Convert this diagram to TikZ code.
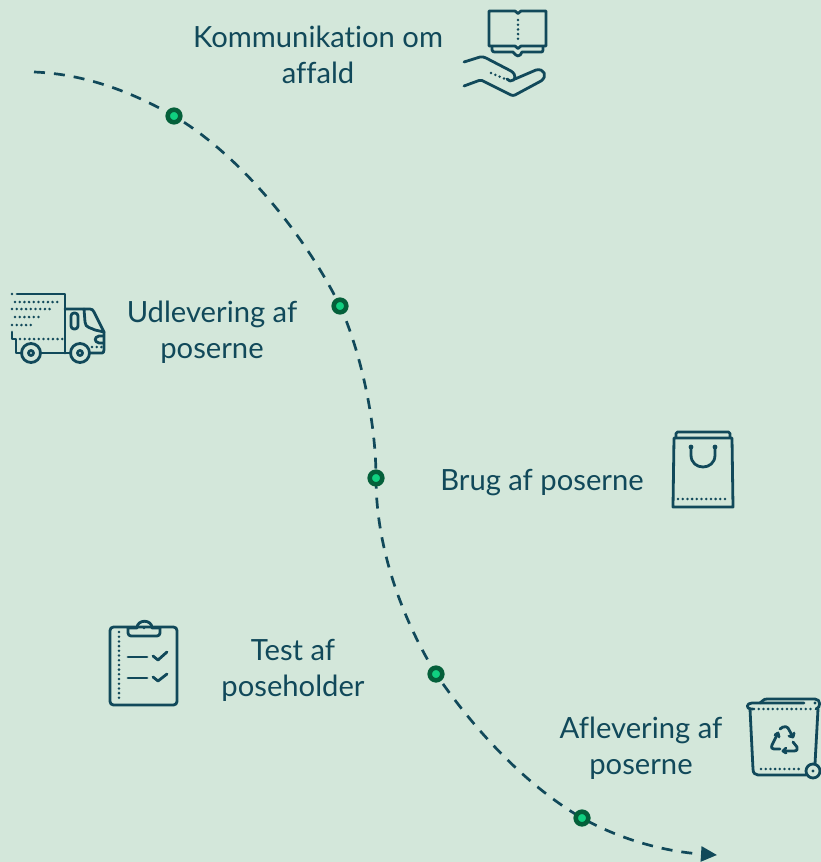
\documentclass[tikz,border=0pt]{standalone}
\usepackage{fontspec}
\setmainfont{Lato}[Ligatures=NoCommon]
\usetikzlibrary{arrows.meta}
\definecolor{bgc}{HTML}{D3E7DA}
\definecolor{ink}{HTML}{11495A}
\definecolor{dotout}{HTML}{04603A}
\definecolor{dotin}{HTML}{10D080}
\tikzset{
  lbl/.style={text=ink,font=\fontsize{29.2}{36}\selectfont,align=center,inner sep=0pt},
  stop/.style={circle,fill=dotin,draw=dotout,line width=4.6pt,minimum size=12.6pt,inner sep=0pt},
  icon/.style={draw=ink,line width=2.8pt,line cap=round,line join=round},
  dots/.style={draw=ink,line width=2.8pt,line cap=round,dash pattern=on 0pt off 4.7pt},
  route/.style={draw=ink,line width=2.7pt,dash pattern=on 11pt off 9pt},
}
\begin{document}
\begin{tikzpicture}[x=1pt,y=-1pt]
\useasboundingbox (0,0) rectangle (821,862);
\fill[bgc] (0,0) rectangle (821,862);
% route
\coordinate (start) at (34,72);
\coordinate (end) at (717,855);
\path (174,116) coordinate (p1) (340,306) coordinate (p2) (376,478) coordinate (p3) (436,674) coordinate (p4) (582,818) coordinate (p5);
\draw[route,-{Triangle[length=16pt,width=15pt,fill=ink]}] (start)
  .. controls (85,74) and (132,92) .. (p1)
  .. controls (240,155) and (305,235) .. (p2)
  .. controls (360,350) and (376,420) .. (p3)
  .. controls (376,545) and (400,615) .. (p4)
  .. controls (478,735) and (530,788) .. (p5)
  .. controls (625,842) and (670,852) .. (end);
\node[stop] (s1) at (p1) {};
\node[stop] (s2) at (p2) {};
\node[stop] (s3) at (p3) {};
\node[stop] (s4) at (p4) {};
\node[stop] (s5) at (p5) {};
% labels
\node[lbl] (l1) at (318,54.5) {Kommunikation om\\affald};
\node[lbl] (l2) at (212,332) {Udlevering af\\poserne};
\node[lbl] (l3) at (542,483) {Brug af poserne};
\node[lbl] (l4) at (293,670) {Test af\\poseholder};
\node[lbl] (l5) at (641,748.5) {Aflevering af\\poserne};
% book + hand
\draw[icon] (489,11) -- (515,11) -- (518,13.5) -- (521,11) -- (546,11) -- (546,46) -- (521,46) -- (518,48.5) -- (515,46) -- (489,46) -- cycle;
\draw[dots] (518,20) -- (518,42);
\draw[icon] (492,47) -- (492,50) .. controls (492,52) and (494,52) .. (495,52) -- (513,52) .. controls (515,54) and (516,56) .. (518,56) .. controls (520,56) and (521,54) .. (522,52) -- (541,52) .. controls (542,52) and (543,52) .. (543,50) -- (543,47);
\draw[icon] (464,62) -- (480,57) .. controls (482,56.5) and (484,57) .. (486,58) -- (511,71) .. controls (517,75) and (516,81) .. (510,81) -- (507,79);
\draw[dots] (491,73) -- (505,79);
\draw[icon] (515,79) -- (536,70) .. controls (544,68) and (548,76) .. (541,81) -- (515,95) .. controls (514,95.5) and (512,95.5) .. (511,95) -- (482,80.5) .. controls (481,80) and (480,80) .. (479,80.5) -- (464,86);
% truck
\draw[icon] (17,294) -- (65,294) -- (65,353);
\fill[ink] (12,294) circle (1.4pt);
\draw[dots] (15,302) -- (59,302);
\draw[dots] (12,309) -- (52,309);
\draw[dots] (15,317) -- (40,317);
\draw[dots] (12,325) -- (32,325);
\draw[icon] (12,332) -- (12,339) -- (16,339) -- (16,353) -- (22,353);
\draw[dots] (20,339) -- (63,339);
\draw[icon] (31,353) circle (9.5pt);
\draw[icon] (31,353) circle (2.5pt);
\draw[icon] (40,353) -- (71,353);
\draw[icon] (80,353) circle (9.5pt);
\draw[icon] (80,353) circle (2.5pt);
\draw[icon] (65,309) -- (90,309) .. controls (92,309) and (93,310) .. (94,312) -- (104,332) -- (104,350) .. controls (104,352) and (103,353) .. (102,353) -- (90,353);
\draw[icon] (84,309) -- (85,322) .. controls (85,328) and (92,328) .. (95,330) -- (104,332);
\draw[icon,rounded corners=3pt] (71,313) rectangle (78,329);
\draw[icon] (103,336) -- (99,336) .. controls (94,337) and (94,342) .. (99,343) -- (103,343);
\draw[dots] (92,347) -- (102,347);
% bag
\draw[icon] (674,438) -- (673,507) -- (733,507) -- (732,438) -- cycle;
\draw[icon,rounded corners=1.5pt] (676,437) -- (676,432) -- (730,432) -- (730,437);
\fill[ink] (691,447) circle (2.4pt) (715,447) circle (2.4pt);
\draw[icon] (691,447) -- (691,455) .. controls (691,471) and (715,471) .. (715,455) -- (715,447);
\draw[dots] (678,499) -- (728,499);
% clipboard
\draw[icon,rounded corners=3.5pt] (110,627) rectangle (177,705);
\draw[icon,rounded corners=3pt] (128,628) -- (128,636) -- (160,636) -- (160,628);
\draw[icon] (128,628) -- (137,628) .. controls (137,619) and (152,619) .. (152,628) -- (160,628);
\fill[ink] (144,628) circle (1.4pt);
\draw[dots] (119,632) -- (119,699);
\draw[icon] (128,657) -- (147,657);
\draw[icon] (128,678) -- (147,678);
\draw[icon] (153,656) -- (158,660) -- (167,652);
\draw[icon] (153,677) -- (158,681) -- (167,674);
% bin
\draw[icon] (804,703) -- (763,703) -- (760,703) -- (752,703) .. controls (746,703) and (746,709) .. (751,709) -- (753,709);
\draw[icon] (760,703) -- (763,700.5) .. controls (764,699.5) and (765,699) .. (767,699) -- (815,699) .. controls (821,699) and (821,708) .. (816,709);
\fill[ink] (815,703) circle (1.6pt);
\draw[dots] (754,709) -- (812,709);
\draw[icon] (750,709) -- (753,769) .. controls (753,773) and (755,775) .. (758,775) -- (806,775);
\draw[icon] (818,709) -- (815,764);
\draw[dots] (761,769) -- (799,769);
\draw[icon] (813,771) circle (7pt);
\fill[ink] (813,771) circle (1.6pt);
\draw[icon] (778,733) -- (772,745) .. controls (771,748) and (772,749) .. (774,749) -- (780,749);
\draw[icon] (775,735) -- (778,733) -- (779,737);
\draw[icon] (780,729) -- (783,727) .. controls (785,726) and (787,727) .. (788,728) -- (793,737);
\draw[icon] (789,736) -- (793,737) -- (794,733);
\draw[icon] (793,742) -- (797,747) .. controls (798,749) and (797,751) .. (794,751) -- (783,751);
\draw[icon] (786,748) -- (783,751) -- (786,753);
\end{tikzpicture}
\end{document}
